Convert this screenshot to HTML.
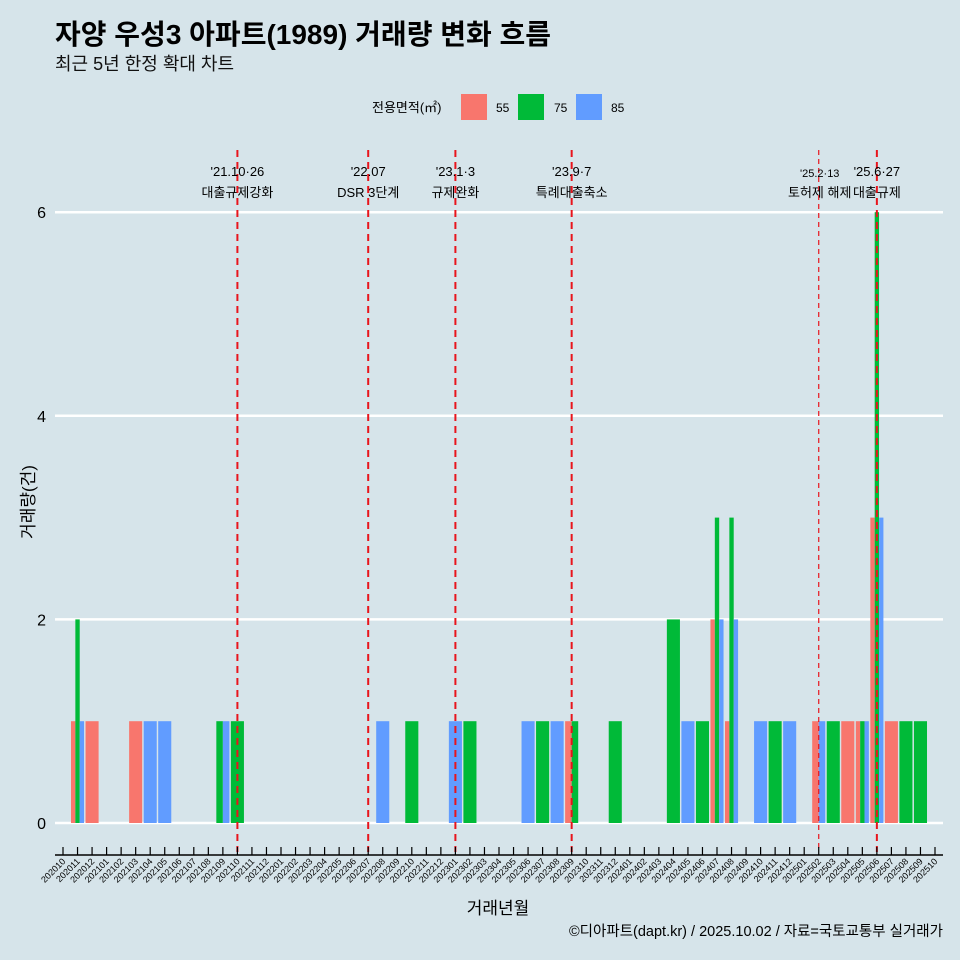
<!DOCTYPE html>
<html><head><meta charset="utf-8"><style>
html,body{margin:0;padding:0;background:#d6e4ea;overflow:hidden;width:960px;height:960px;}
svg{display:block;}
svg text{font-family:"Liberation Sans","Noto Sans CJK KR",sans-serif;}
</style></head><body>
<svg id="c" width="960" height="960" xmlns="http://www.w3.org/2000/svg">
<rect width="960" height="960" fill="#d6e4ea"/>
<text x="55" y="44" font-size="28" font-weight="bold" fill="#000">자양 우성3 아파트(1989) 거래량 변화 흐름</text>
<text x="55" y="70" font-size="18" fill="#111">최근 5년 한정 확대 차트</text>
<g>
<text x="372" y="112" font-size="13">전용면적(㎡)</text>
<rect x="461" y="94" width="26" height="26" fill="#f8766d"/>
<text x="496" y="112" font-size="12">55</text>
<rect x="518" y="94" width="26" height="26" fill="#00ba38"/>
<text x="554" y="112" font-size="12">75</text>
<rect x="576" y="94" width="26" height="26" fill="#619cff"/>
<text x="611" y="112" font-size="12">85</text>
</g>
<g id="grid"></g><g id="bars"></g><g id="events"></g><g id="axes"></g>
<text x="0" y="0" transform="translate(34,502) rotate(-90)" text-anchor="middle" font-size="17">거래량(건)</text>
<text x="498" y="914" text-anchor="middle" font-size="17">거래년월</text>
<text x="943" y="936" text-anchor="end" font-size="14.5">©디아파트(dapt.kr) / 2025.10.02 / 자료=국토교통부 실거래가</text>
</svg>
<script>
const months=[];for(let y=2020,m=10;y*100+m<=202510;){months.push(String(y*100+m));m++;if(m>12){m=1;y++;}}
const seriesNames=["55","75","85"];
const s55={"202011":1,"202012":1,"202103":1,"202309":1,"202407":2,"202408":1,"202502":1,"202504":1,"202505":1,"202506":3,"202507":1};
const s75={"202011":2,"202109":1,"202110":1,"202210":1,"202302":1,"202307":1,"202309":1,"202312":1,"202404":2,"202406":1,"202407":3,"202408":3,"202411":1,"202503":1,"202505":1,"202506":6,"202508":1,"202509":1};
const s85={"202011":1,"202104":1,"202105":1,"202109":1,"202208":1,"202301":1,"202306":1,"202308":1,"202405":1,"202407":2,"202408":2,"202410":1,"202412":1,"202502":1,"202505":1,"202506":3};
const yTicks=[0,2,4,6];
const eventMonths=["202110","202207","202301","202309","202502","202506"];
const eventL1=["'21.10·26","'22.07","'23.1·3","'23.9·7","'25.2·13","'25.6·27"];
const eventL2=["대출규제강화","DSR 3단계","규제완화","특례대출축소","토허제 해제","대출규제"];
const colors=["#f8766d","#00ba38","#619cff"];
const NS="http://www.w3.org/2000/svg";
const step=(935-63)/(months.length-1);
const x=m=>63+months.indexOf(m)*step;
const y=v=>823-v*101.8;
function mk(tag,attrs,parent){const e=document.createElementNS(NS,tag);for(const k in attrs)e.setAttribute(k,attrs[k]);document.getElementById(parent).appendChild(e);return e;}
yTicks.forEach(t=>{
 let l=mk('line',{x1:55,x2:943,y1:y(t),y2:y(t),stroke:'#fff','stroke-width':2.5},'grid');
 
 
 let tx=mk('text',{x:46,y:y(t)+6,'text-anchor':'end','font-size':16},'grid');tx.textContent=t;
 
 
});
const data=[s55,s75,s85];const bw=step*0.9;
months.forEach(m=>{
 const present=[0,1,2].filter(i=>data[i][m]);
 const w=bw/present.length;
 present.forEach((i,k)=>{
  const r=mk('rect',{x:x(m)-bw/2+k*w,y:y(data[i][m]),width:w,height:y(0)-y(data[i][m]),fill:colors[i]},'bars');
  
  
 });
});
eventMonths.forEach((m,i)=>{
 const thin=m==="202502";
 const l=mk('line',{x1:x(m),x2:x(m),y1:150,y2:852,stroke:'#e8141c','stroke-width':thin?1.2:2,'stroke-dasharray':thin?'5,4':'7,5'},'events');
 
 
 const cx=thin?x(m)+1:x(m);
 const t1=mk('text',{x:cx,y:thin?177:176,'text-anchor':'middle','font-size':thin?11:13},'events');t1.textContent=eventL1[i];
 
 
 const t2=mk('text',{x:cx,y:197,'text-anchor':'middle','font-size':13},'events');t2.textContent=eventL2[i];
 
 
});
const ax=mk('line',{x1:55,x2:943,y1:855,y2:855,stroke:'#000','stroke-width':1.5},'axes');


months.forEach(m=>{
 const t=mk('line',{x1:x(m),x2:x(m),y1:847,y2:855,stroke:'#000','stroke-width':1.2},'axes');
 
 
 const tx=mk('text',{x:0,y:0,'text-anchor':'end','font-size':9,transform:`translate(${x(m)+3},${862}) rotate(-45)`},'axes');tx.textContent=m;
 
 
});
</script>
</body></html>
